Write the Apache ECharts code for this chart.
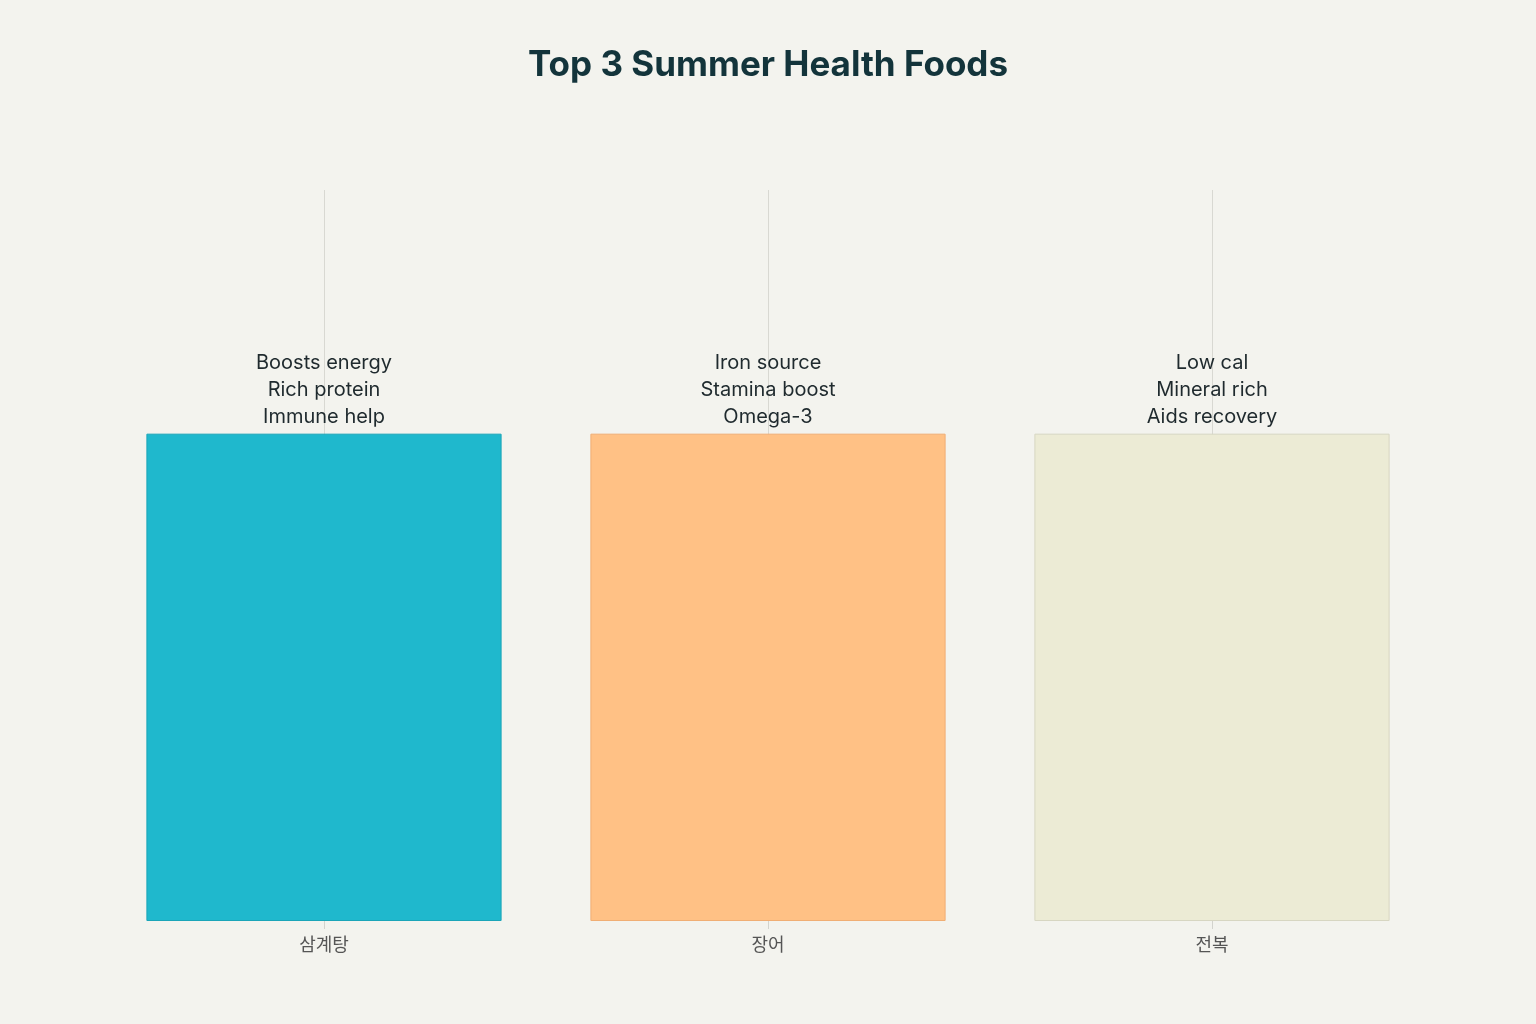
<!DOCTYPE html>
<html>
<head>
<meta charset="utf-8">
<script src="https://cdn.jsdelivr.net/npm/echarts@6/dist/echarts.min.js"></script>
<style>
html,body{margin:0;padding:0;background:#F3F3EE;}
#chart{width:1536px;height:1024px;}
</style>
</head>
<body>
<div id="chart"></div>
<script>
const categories = ['삼계탕', '장어', '전복'];
const values = [1, 1, 1];
const benefits = [
  'Boosts energy\nRich protein\nImmune help',
  'Iron source\nStamina boost\nOmega-3',
  'Low cal\nMineral rich\nAids recovery'
];
const barColors = ['#1FB8CD', '#FFC185', '#ECEBD5'];
const borderColors = ['#1AA5B8', '#F0AE74', '#D7D6C2'];

const chart = echarts.init(document.getElementById('chart'));
chart.setOption({
  backgroundColor: '#F3F3EE',
  animation: false,
  title: {
    text: 'Top 3 Summer Health Foods',
    left: 'center',
    top: 43,
    textStyle: {
      fontFamily: 'Inter, "Noto Sans", sans-serif',
      fontSize: 35,
      fontWeight: 'bold',
      color: '#13343B'
    }
  },
  grid: { left: 102, right: 102, top: 190, bottom: 103 },
  xAxis: {
    type: 'category',
    data: categories,
    axisLine: { show: false },
    axisTick: { show: true, alignWithLabel: true, length: 8, lineStyle: { color: '#D3D3CD' } },
    axisLabel: {
      margin: 14,
      fontSize: 18,
      color: '#555555',
      fontFamily: '"Noto Sans CJK KR", sans-serif'
    },
    splitLine: { show: false }
  },
  yAxis: {
    type: 'value',
    min: 0,
    max: 1.5,
    show: false,
    splitLine: { show: false }
  },
  series: [
    {
      type: 'line',
      data: [],
      z: 0,
      silent: true,
      markLine: {
        z: 0,
        symbol: 'none',
        silent: true,
        label: { show: false },
        lineStyle: { color: '#D8D8D2', width: 1, type: 'solid' },
        data: categories.map(c => [{ xAxis: c, yAxis: 0 }, { xAxis: c, yAxis: 1.5 }])
      }
    },
    {
      type: 'bar',
      z: 3,
      barWidth: '80%',
      data: values.map((v, i) => ({
        value: v,
        itemStyle: { color: barColors[i], borderColor: borderColors[i], borderWidth: 1 },
        label: { formatter: benefits[i] }
      })),
      label: {
        show: true,
        position: 'top',
        distance: 3,
        fontSize: 20,
        lineHeight: 27,
        color: '#1F2A2E',
        fontFamily: 'Inter, "Noto Sans", sans-serif'
      }
    }
  ]
});
</script>
</body>
</html>
